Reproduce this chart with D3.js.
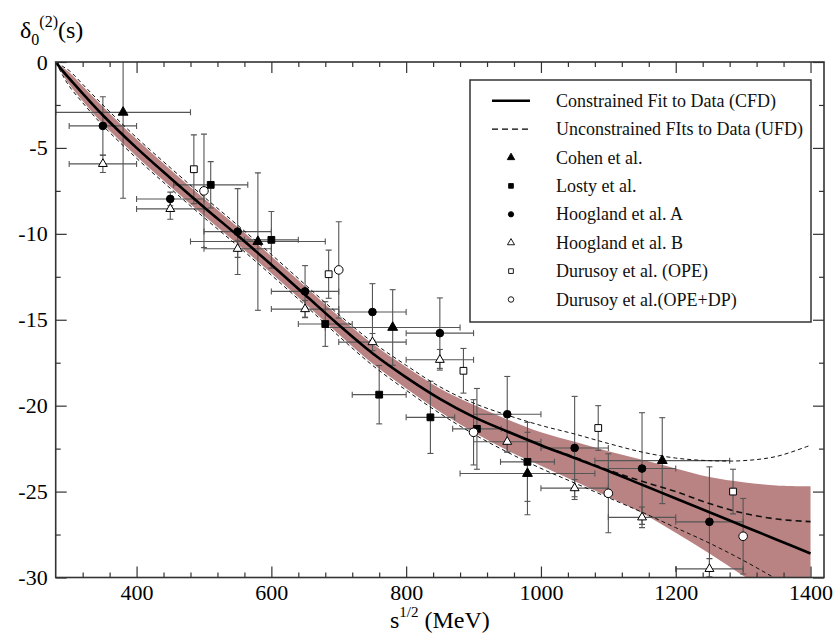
<!DOCTYPE html>
<html>
<head>
<meta charset="utf-8">
<script src="https://cdnjs.cloudflare.com/ajax/libs/d3/7.8.5/d3.min.js"></script>
<style>
  body { margin: 0; background: #fff; }
  svg { display: block; }
  svg text { font-family: "Liberation Serif", "Times New Roman", Times, "DejaVu Serif", serif; }
</style>
</head>
<body>
<svg id="chart"></svg>
<script>
// fit curves, sampled on fitX (MeV)
const fitX      = [280, 290, 300, 325, 350, 400, 450, 500, 550, 600, 650, 700, 750, 800, 850, 900, 950, 1000, 1050, 1100, 1150, 1200, 1250, 1300, 1350, 1400];
const cfd       = [0, -0.5, -0.95, -2.05, -3.1, -5.0, -6.75, -8.45, -10.1, -11.8, -13.55, -15.3, -16.95, -18.35, -19.6, -20.65, -21.5, -22.3, -23.05, -23.8, -24.6, -25.4, -26.2, -27.0, -27.8, -28.6];
const bandUpper = [0, -0.3, -0.6, -1.6, -2.6, -4.5, -6.25, -7.95, -9.6, -11.3, -13.05, -14.8, -16.4, -17.75, -19.0, -19.95, -20.8, -21.55, -22.1, -22.65, -23.15, -23.65, -24.15, -24.45, -24.65, -24.7];
const bandLower = [0, -0.7, -1.3, -2.5, -3.6, -5.5, -7.25, -8.95, -10.6, -12.3, -14.05, -15.85, -17.55, -19.0, -20.35, -21.55, -22.6, -23.5, -24.4, -25.3, -26.25, -27.4, -28.6, -29.9, -31.2, -32.5];
const ufdUpper  = [0, -0.25, -0.5, -1.5, -2.5, -4.4, -6.15, -7.85, -9.5, -11.2, -12.95, -14.7, -16.3, -17.65, -18.9, -19.85, -20.55, -21.15, -21.65, -22.2, -22.7, -23.05, -23.2, -23.2, -22.95, -22.3];
const ufdLower  = [0, -0.75, -1.4, -2.6, -3.7, -5.6, -7.35, -9.05, -10.7, -12.4, -14.15, -15.95, -17.65, -19.1, -20.45, -21.65, -22.7, -23.65, -24.5, -25.35, -26.2, -27.1, -28.0, -29.0, -30.1, -31.2];
const ufdMid    = [0, -0.5, -0.95, -2.05, -3.1, -5.0, -6.75, -8.45, -10.1, -11.8, -13.55, -15.3, -16.95, -18.35, -19.6, -20.65, -21.5, -22.3, -23.0, -23.75, -24.4, -25.0, -25.7, -26.25, -26.6, -26.75];

// data sets
const cohenX = [380, 580, 780, 980, 1180];
const cohenY = [-2.93, -10.45, -15.45, -23.95, -23.2];
const cohenErr = [5.0, 4.0, 2.2, 2.4, 2.5];
const cohenXErr = [100, 100, 100, 100, 100];

const lostyX = [510, 600, 680, 760, 836, 905, 980];
const lostyY = [-7.15, -10.35, -15.25, -19.36, -20.68, -21.35, -23.27];
const lostyErr = [1.35, 1.65, 1.3, 1.7, 2.1, 2.35, 2.3];
const lostyXErr = [55, 40, 40, 40, 36, 36, 40];

const hoogAX = [350, 450, 550, 650, 750, 850, 950, 1050, 1150, 1250];
const hoogAY = [-3.72, -7.97, -9.87, -13.35, -14.55, -15.78, -20.5, -22.46, -23.66, -26.76];
const hoogAErr = [1.7, 0.4, 2.5, 1.5, 1.65, 2.05, 2.2, 3.0, 3.25, 3.2];
const hoogAXErr = [50, 50, 50, 50, 50, 50, 50, 50, 50, 50];

const hoogBX = [350, 450, 550, 650, 750, 850, 950, 1050, 1150, 1250];
const hoogBY = [-5.93, -8.55, -10.87, -14.38, -16.3, -17.33, -22.1, -24.8, -26.5, -29.5];
const hoogBErr = [0.5, 0.6, 0.5, 0.5, 0.5, 0.6, 0.6, 0.5, 0.6, 0.6];
const hoogBXErr = [50, 50, 50, 50, 50, 50, 50, 50, 50, 50];

const durOpeX = [485, 685, 885, 1085, 1285];
const durOpeY = [-6.24, -12.35, -17.97, -21.3, -25.0];
const durOpeErr = [2.0, 1.4, 1.3, 1.3, 1.3];

const durDpX = [500, 700, 900, 1100, 1300];
const durDpY = [-7.5, -12.1, -21.55, -25.1, -27.6];
const durDpErr = [3.3, 2.8, 1.9, 2.3, 2.2];

const xMajor = [400, 600, 800, 1000, 1200, 1400];
const yMajor = [0, -5, -10, -15, -20, -25, -30];

const legendLabels = [
    "Constrained Fit to Data (CFD)",
    "Unconstrained FIts to Data (UFD)",
    "Cohen et al.",
    "Losty et al.",
    "Hoogland et al. A",
    "Hoogland et al. B",
    "Durusoy et al. (OPE)",
    "Durusoy et al.(OPE+DP)"
];

const FONT = "'Liberation Serif', 'Times New Roman', Times, serif";

const W = 835, H = 640;
const svg = d3.select("#chart").attr("width", W).attr("height", H);

const x = d3.scaleLinear().domain([280, 1420]).range([55.7, 824]);
const y = d3.scaleLinear().domain([0, -30]).range([62, 577.5]);

const bandColor = "#b98383";

svg.append("defs").append("clipPath").attr("id", "plotclip")
    .append("rect")
    .attr("x", x(280)).attr("y", y(0))
    .attr("width", x(1420) - x(280)).attr("height", y(-30) - y(0));

const plot = svg.append("g").attr("clip-path", "url(#plotclip)");

// band
const fit = fitX.map((v, i) => ({ x: v, c: cfd[i], bu: bandUpper[i], bl: bandLower[i], uu: ufdUpper[i], ul: ufdLower[i], um: ufdMid[i] }));

plot.append("path")
    .datum(fit)
    .attr("fill", bandColor)
    .attr("d", d3.area()
        .x(d => x(d.x))
        .y0(d => y(d.bl))
        .y1(d => y(d.bu))
        .curve(d3.curveCatmullRom));

// error bars
function errorBars(xs, ys, yerr, xerr) {
    const g = plot.append("g").attr("stroke", "#555").attr("stroke-width", 1.1).attr("fill", "none");
    xs.forEach((xv, i) => {
        const cx = x(xv), cy = y(ys[i]);
        const top = y(ys[i] + yerr[i]), bot = y(ys[i] - yerr[i]);
        g.append("line").attr("x1", cx).attr("x2", cx).attr("y1", top).attr("y2", bot);
        g.append("line").attr("x1", cx - 3).attr("x2", cx + 3).attr("y1", top).attr("y2", top);
        g.append("line").attr("x1", cx - 3).attr("x2", cx + 3).attr("y1", bot).attr("y2", bot);
        if (xerr) {
            const l = x(xv - xerr[i]), r = x(xv + xerr[i]);
            g.append("line").attr("x1", l).attr("x2", r).attr("y1", cy).attr("y2", cy);
            g.append("line").attr("x1", l).attr("x2", l).attr("y1", cy - 3).attr("y2", cy + 3);
            g.append("line").attr("x1", r).attr("x2", r).attr("y1", cy - 3).attr("y2", cy + 3);
        }
    });
}

errorBars(cohenX, cohenY, cohenErr, cohenXErr);
errorBars(lostyX, lostyY, lostyErr, lostyXErr);
errorBars(hoogAX, hoogAY, hoogAErr, hoogAXErr);
errorBars(hoogBX, hoogBY, hoogBErr, hoogBXErr);
errorBars(durOpeX, durOpeY, durOpeErr, null);
errorBars(durDpX, durDpY, durDpErr, null);

// fit lines
const mk = key => d3.line().x(d => x(d.x)).y(d => y(d[key])).curve(d3.curveCatmullRom);

plot.append("path").datum(fit).attr("fill", "none").attr("stroke", "#111")
    .attr("stroke-width", 1).attr("stroke-dasharray", "4,3").attr("d", mk("uu"));
plot.append("path").datum(fit).attr("fill", "none").attr("stroke", "#111")
    .attr("stroke-width", 1).attr("stroke-dasharray", "4,3").attr("d", mk("ul"));
plot.append("path").datum(fit).attr("fill", "none").attr("stroke", "#111")
    .attr("stroke-width", 1.6).attr("stroke-dasharray", "6,4").attr("d", mk("um"));
plot.append("path").datum(fit).attr("fill", "none").attr("stroke", "#000")
    .attr("stroke-width", 2.6).attr("d", mk("c"));

// markers
const symbols = {
    cohen: { type: d3.symbolTriangle, size: 42, fill: "#000" },
    losty: { type: d3.symbolSquare, size: 46, fill: "#000" },
    hoogA: { type: d3.symbolCircle, size: 46, fill: "#000" },
    hoogB: { type: d3.symbolTriangle, size: 34, fill: "#fff" },
    durOpe: { type: d3.symbolSquare, size: 46, fill: "#fff" },
    durDp: { type: d3.symbolCircle, size: 58, fill: "#fff" }
};

function markers(xs, ys, s) {
    plot.append("g").selectAll("path")
        .data(xs.map((v, i) => [v, ys[i]]))
        .join("path")
        .attr("transform", d => `translate(${x(d[0])},${y(d[1])})`)
        .attr("d", d3.symbol().type(s.type).size(s.size))
        .attr("fill", s.fill)
        .attr("stroke", "#000")
        .attr("stroke-width", 1);
}

markers(cohenX, cohenY, symbols.cohen);
markers(lostyX, lostyY, symbols.losty);
markers(hoogAX, hoogAY, symbols.hoogA);
markers(hoogBX, hoogBY, symbols.hoogB);
markers(durOpeX, durOpeY, symbols.durOpe);
markers(durDpX, durDpY, symbols.durDp);

// axes (ticks inward on all four sides)
const xMinor = d3.range(320, 1420, 40).filter(v => !xMajor.includes(v));
const yMinor = d3.range(-2.5, -30, -5);

function styleAxis(g) {
    g.attr("font-family", null).attr("font-size", null);
    g.select(".domain").remove();
    g.selectAll(".tick line").attr("stroke", "#333").attr("stroke-width", 1.2);
    g.selectAll(".tick text").attr("fill", "#000")
        .attr("font-family", FONT).style("font-family", FONT).style("font-size", "22px");
}

const yBottom = y(-30), yTop = y(0), xLeft = x(280), xRight = x(1420);

svg.append("g").attr("transform", `translate(0,${yBottom})`)
    .call(d3.axisBottom(x).tickValues(xMajor).tickSize(-11).tickPadding(7).tickFormat(d3.format("d")))
    .call(styleAxis);
svg.append("g").attr("transform", `translate(0,${yBottom})`)
    .call(d3.axisBottom(x).tickValues(xMinor).tickSize(-5).tickFormat(""))
    .call(styleAxis);
svg.append("g").attr("transform", `translate(0,${yTop})`)
    .call(d3.axisTop(x).tickValues(xMajor).tickSize(-11).tickFormat(""))
    .call(styleAxis);
svg.append("g").attr("transform", `translate(0,${yTop})`)
    .call(d3.axisTop(x).tickValues(xMinor).tickSize(-5).tickFormat(""))
    .call(styleAxis);

svg.append("g").attr("transform", `translate(${xLeft},0)`)
    .call(d3.axisLeft(y).tickValues(yMajor).tickSize(-11).tickPadding(8).tickFormat(d => d === 0 ? "0" : "-" + Math.abs(d)))
    .call(styleAxis);
svg.append("g").attr("transform", `translate(${xLeft},0)`)
    .call(d3.axisLeft(y).tickValues(yMinor).tickSize(-5).tickFormat(""))
    .call(styleAxis);
svg.append("g").attr("transform", `translate(${xRight},0)`)
    .call(d3.axisRight(y).tickValues(yMajor).tickSize(-11).tickFormat(""))
    .call(styleAxis);
svg.append("g").attr("transform", `translate(${xRight},0)`)
    .call(d3.axisRight(y).tickValues(yMinor).tickSize(-5).tickFormat(""))
    .call(styleAxis);

// frame
svg.append("rect")
    .attr("x", xLeft).attr("y", yTop)
    .attr("width", xRight - xLeft).attr("height", yBottom - yTop)
    .attr("fill", "none").attr("stroke", "#333").attr("stroke-width", 1.6);

// axis titles
const xt = svg.append("text")
    .attr("x", (xLeft + xRight) / 2).attr("y", 628)
    .attr("text-anchor", "middle")
    .attr("font-family", FONT)
    .style("font-size", "24px");
xt.append("tspan").text("s");
xt.append("tspan").attr("dy", -11).style("font-size", "15px").text("1/2");
xt.append("tspan").attr("dy", 11).text(" (MeV)");

const yt = svg.append("text").attr("x", 20).attr("y", 38)
    .attr("font-family", FONT).style("font-size", "24px");
yt.append("tspan").text("δ");
yt.append("tspan").attr("dy", 7).style("font-size", "16px").text("0");
yt.append("tspan").attr("dy", -18).style("font-size", "16px").text("(2)");
yt.append("tspan").attr("dy", 11).text("(s)");

// legend
const leg = svg.append("g");
leg.append("rect")
    .attr("x", 470).attr("y", 80).attr("width", 341).attr("height", 242)
    .attr("fill", "#fff").attr("stroke", "#333").attr("stroke-width", 1.5);

const rowY = legendLabels.map((d, i) => 100.7 + i * 28.4);

leg.append("line").attr("x1", 492).attr("x2", 530).attr("y1", rowY[0]).attr("y2", rowY[0])
    .attr("stroke", "#000").attr("stroke-width", 2.6);
leg.append("line").attr("x1", 492).attr("x2", 530).attr("y1", rowY[1]).attr("y2", rowY[1])
    .attr("stroke", "#000").attr("stroke-width", 1.2).attr("stroke-dasharray", "6,4");

const legSyms = [
    { type: d3.symbolTriangle, size: 24, fill: "#000" },
    { type: d3.symbolSquare, size: 22, fill: "#000" },
    { type: d3.symbolCircle, size: 22, fill: "#000" },
    { type: d3.symbolTriangle, size: 22, fill: "#fff" },
    { type: d3.symbolSquare, size: 22, fill: "#fff" },
    { type: d3.symbolCircle, size: 24, fill: "#fff" }
];
legSyms.forEach((s, i) => {
    leg.append("path")
        .attr("transform", `translate(511,${rowY[i + 2]})`)
        .attr("d", d3.symbol().type(s.type).size(s.size))
        .attr("fill", s.fill).attr("stroke", "#000").attr("stroke-width", 0.9);
});

leg.selectAll("text.lab")
    .data(legendLabels)
    .join("text")
    .attr("class", "lab")
    .attr("x", 556)
    .attr("y", (d, i) => rowY[i] + 6)
    .attr("font-family", FONT)
    .style("font-size", "18px")
    .attr("fill", "#111")
    .text(d => d);
</script>
</body>
</html>
